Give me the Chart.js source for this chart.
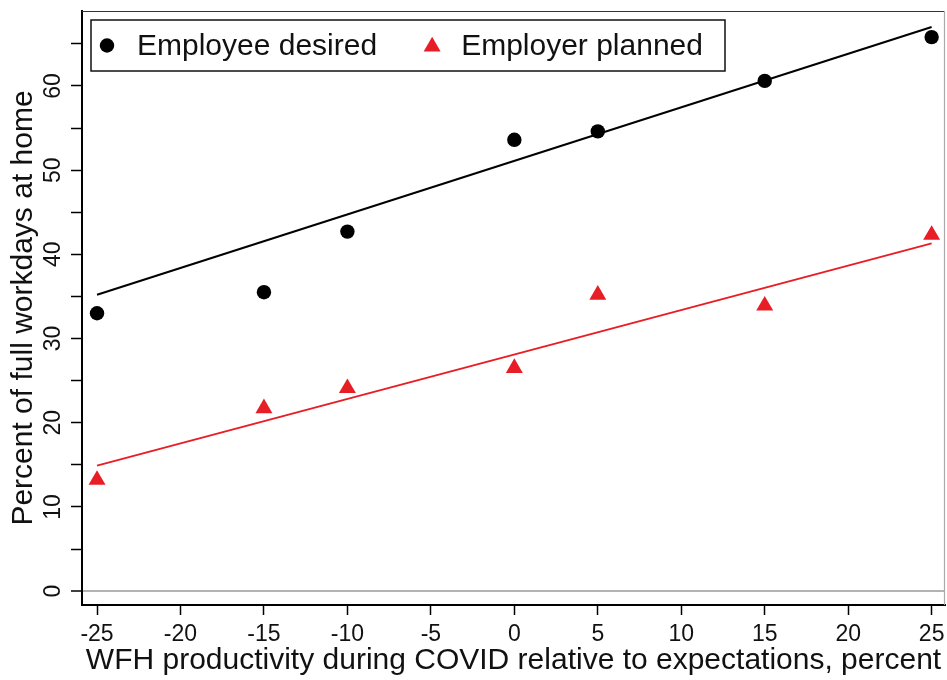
<!DOCTYPE html>
<html>
<head>
<meta charset="utf-8">
<title>Percent of full workdays at home</title>
<script src="https://cdn.jsdelivr.net/npm/chart.js@4.4.1/dist/chart.umd.min.js"></script>
<style>
  html, body { margin: 0; padding: 0; background: #fff; overflow: hidden; }
  canvas { display: block; }
</style>
</head>
<body>
<canvas id="grafico" width="947" height="680"></canvas>
<script>
// WFH productivity during COVID relative to expectations (percent bins)
var bins = [-25, -15, -10, 0, 5, 15, 25];
// percent of full workdays at home
var employeeDesired = [33.0, 35.5, 42.7, 53.6, 54.6, 60.6, 65.8];
var employerPlanned = [13.2, 21.7, 24.1, 26.5, 35.2, 33.9, 42.3];
// fitted lines (values at the two ends)
var fitX = [-25, 25];
var fitDesired = [35.2, 67.0];
var fitPlanned = [14.9, 41.3];

var xTicks = [-25, -20, -15, -10, -5, 0, 5, 10, 15, 20, 25];
var yTicks = [0, 5, 10, 15, 20, 25, 30, 35, 40, 45, 50, 55, 60, 65];
var yLabels = [0, 10, 20, 30, 40, 50, 60];

var seriesNames = ['Employee desired', 'Employer planned'];

var RED = 'rgb(232,30,38)';
var FONT = '"Liberation Sans", Arial, Helvetica, sans-serif';

function pares(xs, ys) {
    var out = [];
    for (var i = 0; i < xs.length; i++) {
        out.push({x: xs[i], y: ys[i]});
    }
    return out;
}

function marker(ctx, kind, x, y) {
    ctx.beginPath();
    if (kind == 'circle') {
        ctx.fillStyle = '#000';
        ctx.arc(x, y, 7.2, 0, Math.PI * 2);
    } else {
        var r = 9.8;
        ctx.fillStyle = RED;
        ctx.moveTo(x, y - r);
        ctx.lineTo(x + r * Math.sin(Math.PI * 2 / 3), y + r / 2);
        ctx.lineTo(x - r * Math.sin(Math.PI * 2 / 3), y + r / 2);
        ctx.closePath();
    }
    ctx.fill();
}

// top and right sides of the plot region
var marco = {
    id: 'marco',
    beforeDatasetsDraw: function (chart) {
        var a = chart.chartArea, ctx = chart.ctx;
        ctx.save();
        ctx.lineWidth = 1.2;
        ctx.strokeStyle = '#333';
        ctx.beginPath();
        ctx.moveTo(a.left, a.top + 0.5);
        ctx.lineTo(a.right, a.top + 0.5);
        ctx.stroke();
        ctx.strokeStyle = '#aaa';
        ctx.beginPath();
        ctx.moveTo(a.right - 0.5, a.top);
        ctx.lineTo(a.right - 0.5, a.bottom);
        ctx.stroke();
        ctx.restore();
    }
};

// boxed legend inside the plot, top left
var leyenda = {
    id: 'leyenda',
    afterDraw: function (chart) {
        var a = chart.chartArea, ctx = chart.ctx;
        var bx = a.left + 9, by = a.top + 9, bw = 634, bh = 51;
        var cy = by + bh / 2;
        ctx.save();
        ctx.strokeStyle = '#111';
        ctx.lineWidth = 1.5;
        ctx.strokeRect(bx, by, bw, bh);
        ctx.font = '30px ' + FONT;
        ctx.textBaseline = 'middle';
        ctx.textAlign = 'left';
        marker(ctx, 'circle', bx + 16, cy);
        ctx.fillStyle = '#111';
        ctx.fillText(seriesNames[0], bx + 46, cy + 1);
        var fin = bx + 46 + ctx.measureText(seriesNames[0]).width;
        marker(ctx, 'triangle', fin + 55, cy + 1);
        ctx.fillStyle = '#111';
        ctx.fillText(seriesNames[1], fin + 84, cy + 1);
        ctx.restore();
    }
};

var ctx = document.getElementById('grafico').getContext('2d');
var myChart = new Chart(ctx, {
    type: 'scatter',
    data: {
        datasets: [{
            label: seriesNames[0],
            data: pares(bins, employeeDesired),
            pointStyle: 'circle',
            pointRadius: 7.2,
            pointBorderWidth: 0,
            backgroundColor: '#000',
            borderColor: '#000'
        }, {
            label: seriesNames[1],
            data: pares(bins, employerPlanned),
            pointStyle: 'triangle',
            pointRadius: 9.8,
            pointBorderWidth: 0,
            backgroundColor: RED,
            borderColor: RED
        }, {
            label: 'fit desired',
            data: pares(fitX, fitDesired),
            showLine: true,
            pointRadius: 0,
            borderWidth: 2,
            borderColor: '#000'
        }, {
            label: 'fit planned',
            data: pares(fitX, fitPlanned),
            showLine: true,
            pointRadius: 0,
            borderWidth: 2,
            borderColor: RED
        }]
    },
    options: {
        responsive: false,
        animation: false,
        layout: { autoPadding: false, padding: { top: 11, right: 2, left: 0, bottom: 0 } },
        plugins: {
            legend: { display: false },
            tooltip: { enabled: false }
        },
        scales: {
            x: {
                type: 'linear',
                min: -25.9,
                max: 25.8,
                afterBuildTicks: function (axis) {
                    axis.ticks = xTicks.map(function (v) { return {value: v}; });
                },
                afterFit: function (axis) {
                    axis.height = 75;
                    axis.paddingLeft = 0;
                    axis.paddingRight = 0;
                },
                grid: { drawOnChartArea: false, tickLength: 10, tickColor: '#000', tickWidth: 1.5 },
                border: { color: '#000', width: 2 },
                ticks: {
                    color: '#111',
                    padding: 6,
                    maxRotation: 0,
                    font: { family: FONT, size: 23 }
                },
                title: {
                    display: true,
                    text: 'WFH productivity during COVID relative to expectations, percent',
                    color: '#111',
                    padding: { top: 0, bottom: 1 },
                    font: { family: FONT, size: 30 }
                }
            },
            y: {
                type: 'linear',
                min: -1.65,
                max: 68.9,
                afterBuildTicks: function (axis) {
                    axis.ticks = yTicks.map(function (v) { return {value: v}; });
                },
                afterFit: function (axis) {
                    axis.width = 82;
                    axis.paddingTop = 0;
                    axis.paddingBottom = 0;
                },
                grid: {
                    drawOnChartArea: true,
                    color: function (c) {
                        return (c.tick && c.tick.value === 0) ? '#b3b3b3' : 'rgba(0,0,0,0)';
                    },
                    lineWidth: function (c) {
                        return (c.tick && c.tick.value === 0) ? 2 : 1;
                    },
                    tickLength: 11,
                    tickColor: '#000',
                    tickWidth: 1.5
                },
                border: { color: '#000', width: 2 },
                ticks: {
                    color: '#111',
                    padding: 5,
                    minRotation: 90,
                    maxRotation: 90,
                    crossAlign: 'center',
                    font: { family: FONT, size: 23 },
                    callback: function (v) {
                        return yLabels.indexOf(v) >= 0 ? String(v) : '';
                    }
                },
                title: {
                    display: true,
                    text: 'Percent of full workdays at home',
                    color: '#111',
                    padding: { top: 6, bottom: 0 },
                    font: { family: FONT, size: 30 }
                }
            }
        }
    },
    plugins: [marco, leyenda]
});
</script>
</body>
</html>
